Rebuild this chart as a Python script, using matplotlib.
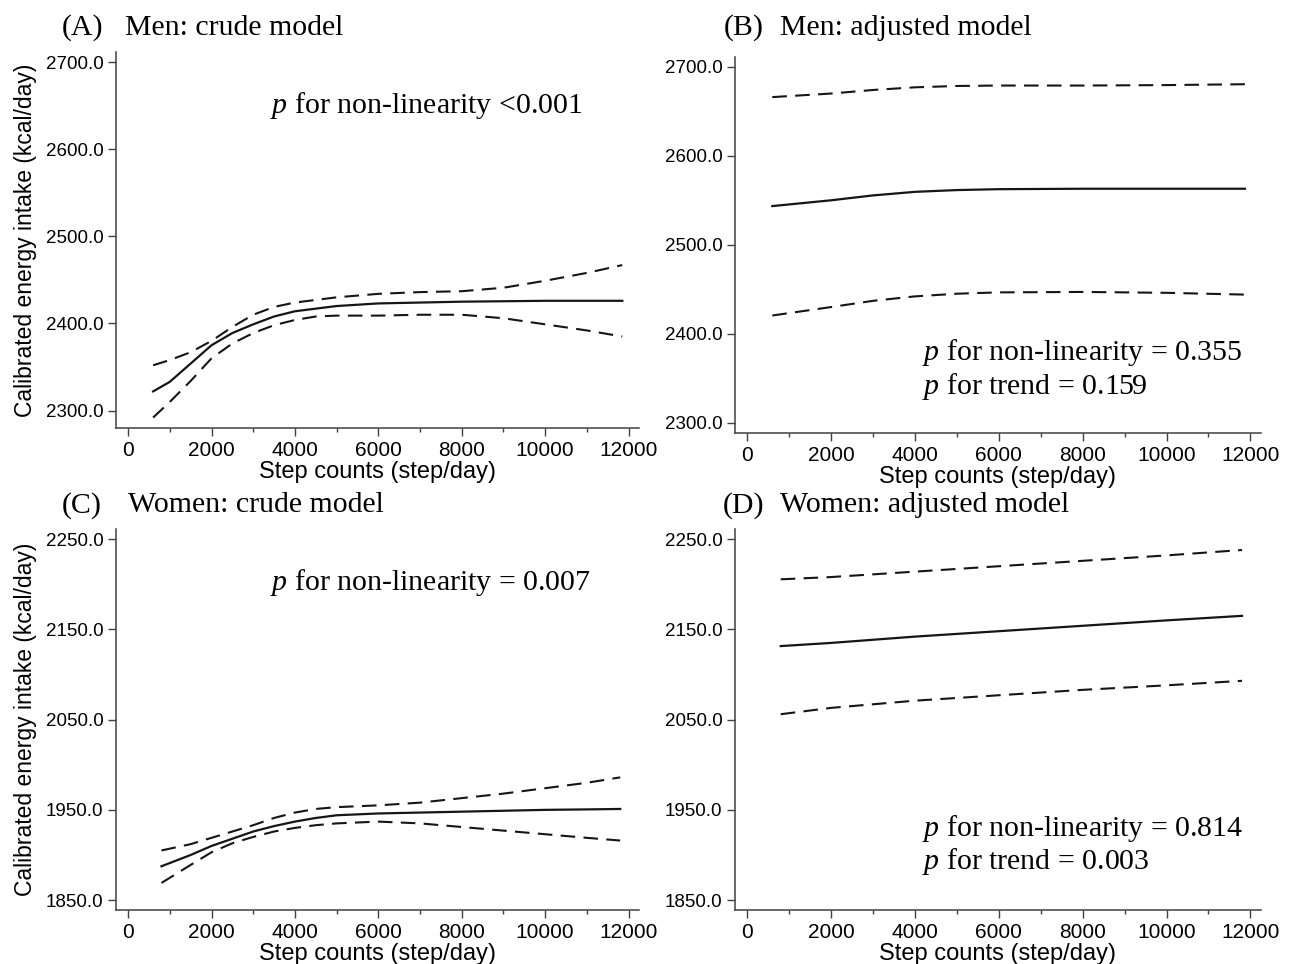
import matplotlib
matplotlib.use("Agg")
import matplotlib.pyplot as plt
from matplotlib.ticker import MultipleLocator, FormatStrFormatter

plt.rcParams['font.family'] = ['Liberation Sans', 'DejaVu Sans']
plt.rcParams['mathtext.fontset'] = 'custom'
plt.rcParams['mathtext.rm'] = 'Liberation Serif'
plt.rcParams['mathtext.it'] = 'Liberation Serif:italic'

# panel A: men, crude model
xa = [600, 1000, 1500, 2000, 2500, 3000, 3500, 4000, 4500, 5000, 6000, 7000, 8000, 9000, 10000, 11000, 11850]
a_fit = [2322, 2333, 2354, 2375, 2389, 2399, 2408, 2414, 2417, 2420, 2423, 2424, 2425, 2425.5, 2426, 2426, 2426]
a_hi = [2352, 2358, 2367, 2380, 2396, 2410, 2419, 2424, 2427, 2430, 2434, 2436, 2437, 2441, 2449, 2458, 2467]
a_lo = [2292, 2310, 2334, 2360, 2377, 2389, 2398, 2404, 2408, 2409, 2409, 2410, 2410, 2406, 2399, 2392, 2385]

# panel B: men, adjusted model
xb = [600, 2000, 3000, 4000, 5000, 6000, 8000, 10000, 11870]
b_fit = [2543.5, 2550, 2555.5, 2559.5, 2561.5, 2562.5, 2563, 2563, 2563]
b_hi = [2666, 2670, 2674, 2677, 2678.5, 2679, 2679, 2679.5, 2680.5]
b_lo = [2420.5, 2430, 2437, 2442, 2445, 2446.5, 2447, 2446, 2444]

# panel C: women, crude model
xc = [800, 1500, 2000, 2500, 3000, 3500, 4000, 4500, 5000, 6000, 7000, 8000, 9000, 10000, 11000, 11800]
c_fit = [1887.5, 1900, 1910, 1918, 1926, 1932, 1937, 1941, 1944, 1946, 1947, 1948, 1949, 1950, 1950.5, 1951]
c_hi = [1905, 1912, 1919, 1926, 1933, 1941, 1947, 1951, 1953, 1955, 1958, 1963, 1968, 1974, 1980, 1986]
c_lo = [1869, 1889, 1903, 1913, 1920, 1926, 1930, 1933, 1935, 1937, 1935, 1931, 1927, 1923, 1919, 1916]

# panel D: women, adjusted model
xd = [800, 2000, 4000, 6000, 8000, 10000, 11800]
d_fit = [2131.5, 2135, 2142, 2148, 2154, 2160, 2165]
d_hi = [2205.5, 2208, 2214, 2220, 2226, 2232, 2238]
d_lo = [2056, 2063, 2071, 2077, 2083, 2088, 2093]

letters = ["(A)", "(B)", "(C)", "(D)"]
titles = ["Men: crude model", "Men: adjusted model", "Women: crude model", "Women: adjusted model"]
pvals = [["$p$ for non-linearity <0.001"],
         ["$p$ for non-linearity = 0.355", "$p$ for trend = 0.159"],
         ["$p$ for non-linearity = 0.007"],
         ["$p$ for non-linearity = 0.814", "$p$ for trend = 0.003"]]

fig = plt.figure(figsize=(12.89, 9.64), dpi=100)

boxes = [[0.090, 0.556, 0.4057, 0.390],
         [0.5702, 0.5508, 0.408, 0.390],
         [0.090, 0.056, 0.4057, 0.395],
         [0.5702, 0.056, 0.408, 0.395]]
ylims = [(2280, 2711.5), (2288.4, 2711), (1839, 2261), (1839, 2261)]
yticks = [[2300, 2400, 2500, 2600, 2700], [2300, 2400, 2500, 2600, 2700],
          [1850, 1950, 2050, 2150, 2250], [1850, 1950, 2050, 2150, 2250]]
series = [(xa, a_fit, a_hi, a_lo), (xb, b_fit, b_hi, b_lo),
          (xc, c_fit, c_hi, c_lo), (xd, d_fit, d_hi, d_lo)]

spine_col = '#404040'
line_col = '#151515'

for i in range(4):
    ax = fig.add_axes(boxes[i])
    x, fit, hi, lo = series[i]
    ax.plot(x, fit, color=line_col, lw=1.6)
    ax.plot(x, hi, color=line_col, lw=1.5, linestyle=(0, (7, 4)))
    ax.plot(x, lo, color=line_col, lw=1.5, linestyle=(0, (7, 4)))

    ax.set_xlim(-290, 12250)
    ax.set_ylim(*ylims[i])
    ax.set_yticks(yticks[i])
    ax.yaxis.set_major_formatter(FormatStrFormatter('%.1f'))
    ax.set_xticks(range(0, 12001, 2000))
    ax.xaxis.set_minor_locator(MultipleLocator(1000))

    for s in ['top', 'right']:
        ax.spines[s].set_visible(False)
    for s in ['left', 'bottom']:
        ax.spines[s].set_color(spine_col)
        ax.spines[s].set_linewidth(1.1)
    ax.tick_params(which='major', length=6, width=1, color=spine_col, labelsize=13.5, pad=3)
    ax.tick_params(axis='x', which='major', labelsize=15)
    ax.tick_params(which='minor', length=3, width=1, color=spine_col)

    ax.set_xlabel("Step counts (step/day)", fontsize=17, labelpad=1)
    if i in (0, 2):
        ax.set_ylabel("Calibrated energy intake (kcal/day)", fontsize=16.5, labelpad=6)

# panel headings
head = dict(family='Liberation Serif', fontsize=21.5, va='center')
fig.text(0.048, 0.971, letters[0], **head)
fig.text(0.097, 0.971, titles[0], **head)
fig.text(0.5617, 0.971, letters[1], **head)
fig.text(0.605, 0.971, titles[1], **head)
fig.text(0.048, 0.476, letters[2], **head)
fig.text(0.0993, 0.476, titles[2], **head)
fig.text(0.561, 0.476, letters[3], **head)
fig.text(0.605, 0.476, titles[3], **head)

# p-value notes
ptxt = dict(family='Liberation Serif', fontsize=21.5, va='center')
fig.text(0.2095, 0.891, pvals[0][0], **ptxt)
fig.text(0.715, 0.634, pvals[1][0], **ptxt)
fig.text(0.715, 0.599, pvals[1][1], **ptxt)
fig.text(0.2095, 0.396, pvals[2][0], **ptxt)
fig.text(0.715, 0.141, pvals[3][0], **ptxt)
fig.text(0.715, 0.106, pvals[3][1], **ptxt)

fig.savefig("out.png", dpi=100)
